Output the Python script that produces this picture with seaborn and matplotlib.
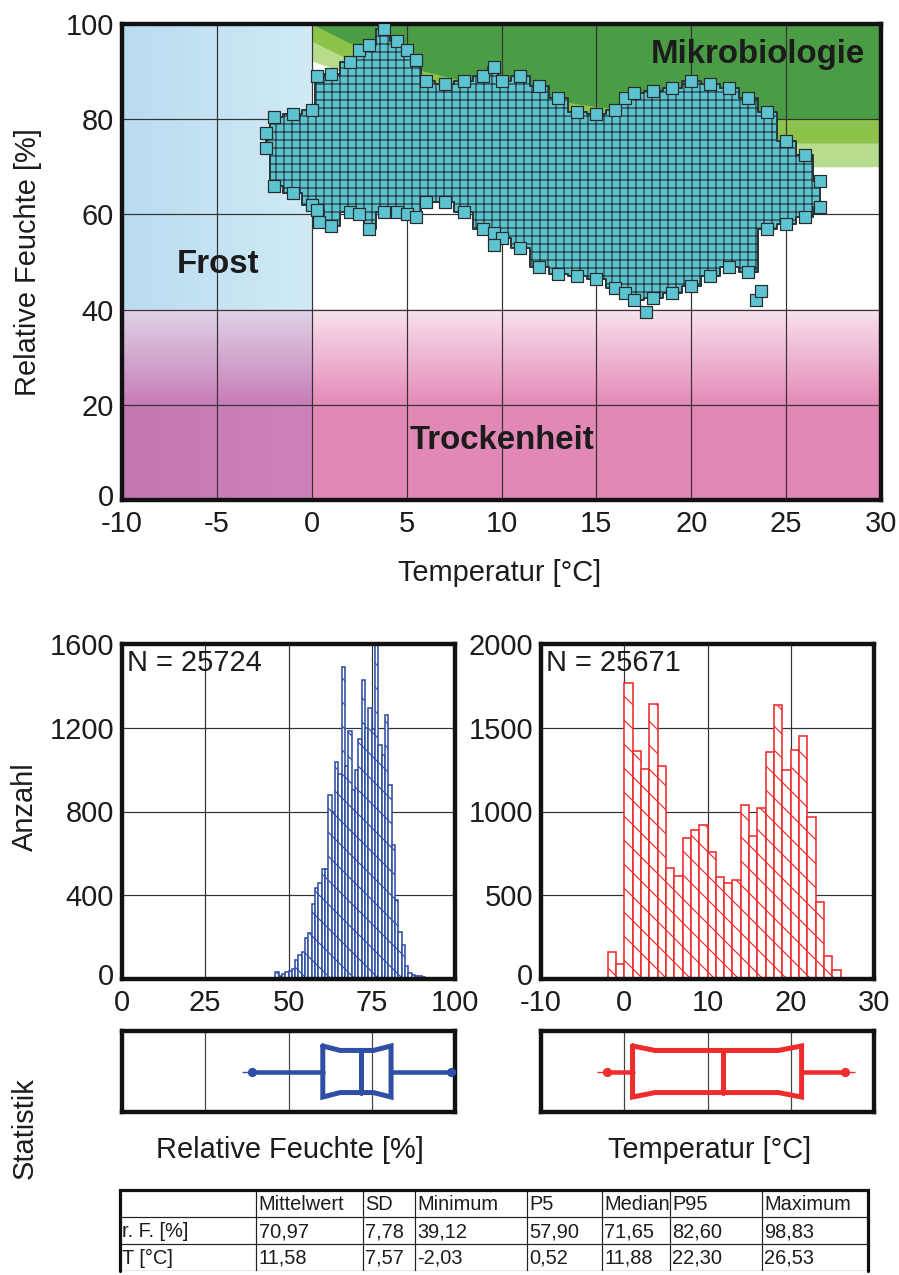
import numpy as np
import pandas as pd
import matplotlib
matplotlib.use("Agg")
import matplotlib.pyplot as plt
import matplotlib.transforms as mtransforms
import seaborn as sns

# Punktwolke r.F. ueber T: Umriss (oben/unten) je Temperatur
cloud_t = [-2.4, -2, -1, 0, 0.3, 1, 2, 2.5, 3, 3.8, 4.5, 5, 5.5, 6, 7, 8, 9, 9.6, 10, 11,
           12, 13, 14, 15, 16, 16.5, 17, 18, 19, 20, 21, 22, 23, 24, 25, 26, 26.8]
cloud_hi = [77, 80.5, 81, 82, 89, 89.5, 92, 94.5, 95.5, 99, 96.5, 94.5, 92.5, 88, 87.5, 88, 89, 91, 88, 89,
            87, 84.5, 81.5, 81, 82, 84.5, 85.5, 86, 86.5, 88, 87.5, 86.5, 84.5, 81.5, 75.5, 72.5, 67]
cloud_lo = [74, 66, 64.5, 62, 61, 57.5, 60.5, 60, 57, 60.5, 60.5, 60, 59.5, 62.5, 62.5, 60.5, 57, 56, 55, 53,
            49, 47.5, 47, 46.5, 44.5, 43.5, 42, 42.5, 43.5, 45, 47, 49, 48, 57, 58, 59.5, 61.5]
outlier_t = [0.4, 9.6, 17.6, 23.4, 23.7]
outlier_rh = [58.5, 53.5, 39.5, 42, 44]

# Zone Mikrobiologie: untere Grenzen der drei Gruenstufen
mb_t = [0, 2, 5, 10, 12, 15, 20, 25, 30]
mb_dark = [100, 96, 91, 86, 84.5, 82.6, 81, 80, 80]
mb_mid = [96.4, 92.5, 87.5, 83.5, 82.5, 81, 78, 75, 75]
mb_pale = [92.2, 89.5, 85, 80.5, 79, 76, 73, 70, 70]

# Histogramme (Klassenbreite 1)
rf_first_bin = 46
rf_counts = [32, 14, 25, 33, 38, 50, 92, 115, 130, 195, 218, 358, 433, 460, 527, 527, 878, 800, 1037, 980,
             1488, 1016, 1185, 905, 1000, 1145, 1430, 1198, 1295, 1193, 1600, 1118, 1070, 1262, 927, 640,
             376, 223, 164, 64, 29, 21, 13, 13, 10, 5]
t_first_bin = -2
t_counts = [160, 92, 1770, 1362, 1252, 1639, 1272, 662, 614, 843, 889, 919, 758, 610, 574, 594, 1039, 853,
            1019, 1356, 1635, 1248, 1366, 1452, 969, 461, 140, 52]

# Boxplots: Min, untere Box, Q1, Median, Q3, obere Box, Max
rf_box = [39.12, 60.3, 65.5, 71.65, 75.5, 80.8, 98.83]
t_box = [-2.03, 1.0, 3.7, 11.88, 18.5, 21.3, 26.53]

# Statistik-Tabelle
tab_header = ["", "Mittelwert", "SD", "Minimum", "P5", "Median", "P95", "Maximum"]
tab_rf = ["r. F. [%]", "70,97", "7,78", "39,12", "57,90", "71,65", "82,60", "98,83"]
tab_t = ["T [°C]", "11,58", "7,57", "-2,03", "0,52", "11,88", "22,30", "26,53"]

CYAN = "#5cc3d0"
BLUE = "#2f4fa6"
RED = "#ee2c2c"
INK = "#1c1c1c"

sns.set_style("white")
plt.rcParams["font.family"] = ["Liberation Sans", "DejaVu Sans"]
plt.rcParams["axes.unicode_minus"] = False
plt.rcParams["hatch.linewidth"] = 0.6
plt.rcParams["hatch.color"] = "#27393c"

W, H = 899, 1275
DPI = 144
fig = plt.figure(figsize=(W / DPI, H / DPI), dpi=DPI)


def px_box(l, t, r, b):
    return [l / W, 1 - b / H, (r - l) / W, (b - t) / H]


def frame(ax, lw=2.2):
    for sp in ax.spines.values():
        sp.set_visible(True)
        sp.set_linewidth(lw)
        sp.set_color("#111111")


def lift_zero_label(ax):
    # "0" an der y-Achse etwas anheben, damit er nicht in die x-Beschriftung laeuft
    lab = ax.get_yticklabels()[0]
    lab.set_transform(lab.get_transform() + mtransforms.ScaledTranslation(0, 5 / DPI, fig.dpi_scale_trans))


def gradient(c0, c1, horizontal):
    t = np.linspace(0, 1, 256)[:, None]
    g = (np.array(c0) * (1 - t) + np.array(c1) * t) / 255.0
    return g[None, :, :] if horizontal else g[:, None, :]


# ---------- Streudiagramm ----------
ax = fig.add_axes(px_box(122, 24, 881, 500))
bg = dict(origin="lower", aspect="auto", interpolation="bilinear", zorder=0)
ax.imshow(gradient((186, 220, 240), (208, 234, 246), True), extent=[-10, 0, 40, 100], **bg)
ax.imshow(gradient((228, 138, 183), (248, 226, 237), False), extent=[0, 30, 20, 40], **bg)
ax.imshow(gradient((226, 136, 180), (226, 136, 180), False), extent=[0, 30, 0, 20], **bg)
ax.imshow(gradient((200, 124, 182), (222, 212, 232), False), extent=[-10, 0, 20, 40], **bg)
ax.imshow(gradient((195, 120, 178), (206, 130, 186), True), extent=[-10, 0, 0, 20], **bg)

ax.fill_between(mb_t, mb_pale, 100, color="#b7dc8d", lw=0, zorder=0.2)
ax.fill_between(mb_t, mb_mid, 100, color="#8dc34b", lw=0, zorder=0.2)
ax.fill_between(mb_t, mb_dark, 100, color="#4b9d45", lw=0, zorder=0.2)

ax.fill_between(cloud_t, cloud_lo, cloud_hi, step="mid", facecolor=CYAN, edgecolor="#27393c",
                linewidth=1.0, hatch="+++", zorder=2)
edge_df = pd.DataFrame({"T": cloud_t + cloud_t + outlier_t, "rF": cloud_hi + cloud_lo + outlier_rh})
sns.scatterplot(data=edge_df, x="T", y="rF", marker="s", s=32, color=CYAN, edgecolor="#2a2a2a",
                linewidth=0.6, ax=ax, zorder=3, legend=False)

ax.set_xlim(-10, 30)
ax.set_ylim(0, 100)
ax.set_xticks(range(-10, 31, 5))
ax.set_yticks(range(0, 101, 20))
ax.set_xlabel("")
ax.set_ylabel("")
ax.grid(True, color="#333333", lw=0.6)
ax.set_axisbelow(True)
ax.tick_params(length=0, labelsize=14.5, pad=4, colors=INK)
ax.tick_params(axis="x", pad=5)
lift_zero_label(ax)
frame(ax)
bold = dict(fontsize=16.5, fontweight="bold", color=INK, ha="center", va="center", zorder=5)
ax.text(23.5, 93.5, "Mikrobiologie", **bold)
ax.text(-4.95, 49.4, "Frost", **bold)
ax.text(10.0, 12.6, "Trockenheit", **bold)

fig.text(28 / W, 1 - 262 / H, "Relative Feuchte [%]", rotation=90, ha="center", va="center",
         fontsize=14.5, color=INK)
fig.text(500 / W, 1 - 573 / H, "Temperatur [°C]", ha="center", va="center", fontsize=14.5, color=INK)


# ---------- Histogramme ----------
def draw_hist(ax, first, counts, color, xlim, xticks, ylim, yticks, n_text):
    edges = [first + i for i in range(len(counts) + 1)]
    centers = [e + 0.5 for e in edges[:-1]]
    sns.histplot(x=centers, weights=counts, bins=edges, ax=ax, element="bars", fill=True,
                 facecolor="white", edgecolor=color, linewidth=0.8, hatch="\\\\", zorder=2)
    ax.set_xlim(*xlim)
    ax.set_ylim(*ylim)
    ax.set_xticks(xticks)
    ax.set_yticks(yticks)
    ax.set_xlabel("")
    ax.set_ylabel("")
    ax.grid(True, color="#333333", lw=0.6)
    ax.set_axisbelow(True)
    ax.tick_params(length=0, labelsize=14.5, pad=4, colors=INK)
    ax.tick_params(axis="x", pad=5)
    lift_zero_label(ax)
    frame(ax)
    ax.text(0.015, 0.943, n_text, transform=ax.transAxes, fontsize=14.5, color=INK,
            ha="left", va="center", zorder=5)


ax_h1 = fig.add_axes(px_box(122, 644, 455, 979))
draw_hist(ax_h1, rf_first_bin, rf_counts, BLUE, (0, 100), range(0, 101, 25), (0, 1600),
          range(0, 1601, 400), "N = 25724")
ax_h2 = fig.add_axes(px_box(541, 644, 874, 979))
draw_hist(ax_h2, t_first_bin, t_counts, RED, (-10, 30), range(-10, 31, 10), (0, 2000),
          range(0, 2001, 500), "N = 25671")

fig.text(25 / W, 1 - 807 / H, "Anzahl", rotation=90, ha="center", va="center", fontsize=14.5, color=INK)


# ---------- Boxplots ----------
def draw_box(ax, stats, color, xlim, xticks):
    lo, b_lo, q1, med, q3, b_hi, hi = stats
    outer, inner = 0.63, 0.52
    lw = 2.5
    ax.plot([b_lo, q1, q3, b_hi, b_hi, q3, q1, b_lo, b_lo],
            [outer, inner, inner, outer, -outer, -inner, -inner, -outer, outer],
            color=color, lw=lw, solid_joinstyle="miter", zorder=3)
    ax.plot([med, med], [-inner, inner], color=color, lw=lw, zorder=3)
    ax.plot([lo, b_lo], [0, 0], color=color, lw=lw * 0.9, zorder=3)
    ax.plot([b_hi, hi], [0, 0], color=color, lw=lw * 0.9, zorder=3)
    ax.plot([lo, hi], [0, 0], ls="none", marker="_", ms=10, mew=0.7, color=color, zorder=3)
    ax.plot([lo, hi], [0, 0], ls="none", marker="o", ms=3.6, color=color, zorder=4, clip_on=False)
    ax.set_xlim(*xlim)
    ax.set_ylim(-1, 1)
    ax.set_xticks(xticks)
    ax.set_yticks([])
    ax.tick_params(length=0, labelbottom=False)
    ax.grid(True, axis="x", color="#444444", lw=0.6)
    ax.set_axisbelow(True)
    frame(ax)


ax_b1 = fig.add_axes(px_box(122, 1031, 455, 1112))
draw_box(ax_b1, rf_box, BLUE, (0, 100), range(0, 101, 25))
ax_b2 = fig.add_axes(px_box(541, 1031, 874, 1112))
draw_box(ax_b2, t_box, RED, (-10, 30), range(-10, 31, 10))

fig.text(25 / W, 1 - 1128 / H, "Statistik", rotation=90, ha="center", va="center", fontsize=14.5, color=INK)
fig.text(290 / W, 1 - 1150 / H, "Relative Feuchte [%]", ha="center", va="center", fontsize=14.5, color=INK)
fig.text(710 / W, 1 - 1150 / H, "Temperatur [°C]", ha="center", va="center", fontsize=14.5, color=INK)

# ---------- Tabelle ----------
ax_t = fig.add_axes(px_box(120, 1190, 868, 1271))
ax_t.set_xlim(0, 748)
ax_t.set_ylim(81, 0)
ax_t.axis("off")
col_x = [0, 136, 243, 295, 407, 482, 550, 642, 748]
row_y = [0, 27, 54, 81]
for x in col_x[1:-1]:
    ax_t.plot([x, x], [0, 81], color="#222222", lw=0.6)
for y in row_y[1:]:
    ax_t.plot([0, 748], [y, y], color="#222222", lw=0.6)
ax_t.plot([0, 0, 748, 748], [81, 0, 0, 81], color="#111111", lw=1.6, solid_joinstyle="miter",
          clip_on=False)
for r, row in enumerate([tab_header, tab_rf, tab_t]):
    yc = (row_y[r] + row_y[r + 1]) / 2
    for c, val in enumerate(row):
        ax_t.text(col_x[c] + 2.5, yc + 1, val, fontsize=10, color=INK, ha="left", va="center")

fig.savefig("out.png", dpi=DPI)
